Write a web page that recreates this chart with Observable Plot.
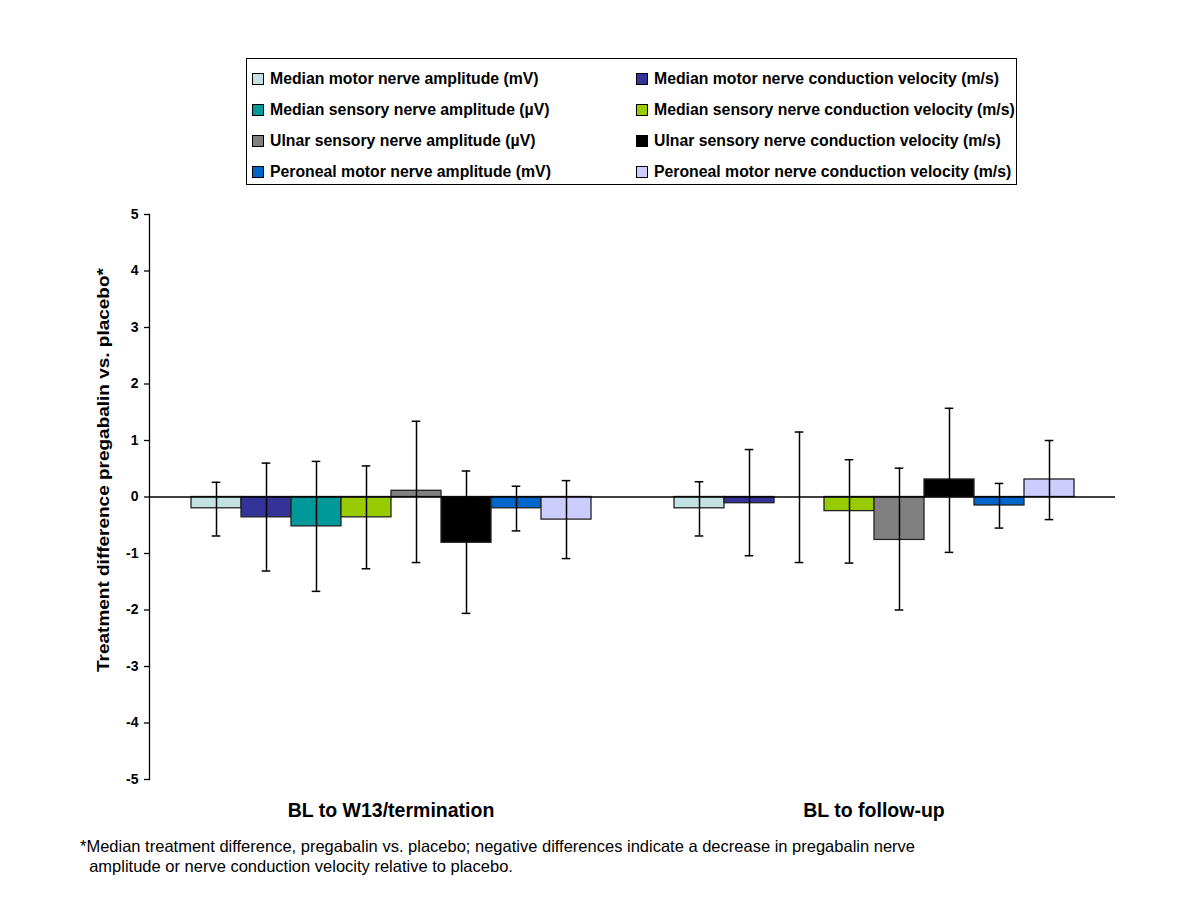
<!DOCTYPE html>
<html>
<head>
<meta charset="utf-8">
<script src="https://cdn.jsdelivr.net/npm/d3@7"></script>
<script src="https://cdn.jsdelivr.net/npm/@observablehq/plot@0.6"></script>
<style>
  html, body { margin: 0; padding: 0; background: #fff; }
  body { width: 1200px; height: 900px; position: relative; font-family: "Liberation Sans", Arial, sans-serif; }
  #chart { position: absolute; left: 0; top: 0; }
  #legend { position: absolute; left: 246px; top: 58px; width: 769px; height: 125px; border: 1px solid #000; }
  .item { position: absolute; display: flex; align-items: center; font-weight: bold; font-size: 15.8px; white-space: nowrap; color: #000; }
  .sw { width: 10px; height: 10px; border: 1px solid #000; margin-right: 6px; }
  #ylabel { position: absolute; left: 103px; top: 470px; transform: translate(-50%, -50%) rotate(-90deg) scaleX(1.15); font-weight: bold; font-size: 16.5px; white-space: nowrap; }
  #note { position: absolute; left: 80px; top: 836px; font-size: 16.5px; line-height: 20px; }
</style>
</head>
<body>
<div id="chart"></div>
<div id="legend"></div>
<div id="ylabel">Treatment difference pregabalin vs. placebo*</div>
<div id="note">*Median treatment difference, pregabalin vs. placebo; negative differences indicate a decrease in pregabalin nerve<br>&nbsp;&nbsp;amplitude or nerve conduction velocity relative to placebo.</div>
<script>
const groups = ["BL to W13/termination", "BL to follow-up"];
const series = [
  "Median motor nerve amplitude (mV)",
  "Median motor nerve conduction velocity (m/s)",
  "Median sensory nerve amplitude (µV)",
  "Median sensory nerve conduction velocity (m/s)",
  "Ulnar sensory nerve amplitude (µV)",
  "Ulnar sensory nerve conduction velocity (m/s)",
  "Peroneal motor nerve amplitude (mV)",
  "Peroneal motor nerve conduction velocity (m/s)"
];
const colors = ["#C2E1E1", "#333399", "#009999", "#99CC00", "#808080", "#000000", "#0066CC", "#CCCCFF"];
const yTicks = [-5, -4, -3, -2, -1, 0, 1, 2, 3, 4, 5];

const medianW13 = [-0.2, -0.36, -0.52, -0.36, 0.11, -0.81, -0.2, -0.4];
const lowerW13  = [-0.69, -1.31, -1.67, -1.27, -1.16, -2.06, -0.6, -1.09];
const upperW13  = [0.26, 0.6, 0.63, 0.55, 1.34, 0.46, 0.19, 0.29];

const medianFU = [-0.2, -0.11, 0, -0.25, -0.76, 0.31, -0.15, 0.31];
const lowerFU  = [-0.69, -1.04, -1.16, -1.17, -2.0, -0.98, -0.55, -0.4];
const upperFU  = [0.27, 0.84, 1.15, 0.66, 0.51, 1.57, 0.24, 1.0];

const data = [];
series.forEach((s, i) => {
  data.push({group: groups[0], series: s, value: medianW13[i], lo: lowerW13[i], hi: upperW13[i]});
});
series.forEach((s, i) => {
  data.push({group: groups[1], series: s, value: medianFU[i], lo: lowerFU[i], hi: upperFU[i]});
});

const chart = Plot.plot({
  width: 1200,
  height: 835,
  marginLeft: 149,
  marginRight: 85,
  marginTop: 214,
  marginBottom: 56,
  style: {fontFamily: "'Liberation Sans', Arial, sans-serif", background: "white"},
  fx: {domain: groups, paddingInner: 0, paddingOuter: 0, label: null},
  x: {domain: series, padding: 0, insetLeft: 38.5, insetRight: 38.5, axis: null},
  y: {domain: [-5, 5], axis: null},
  color: {domain: series, range: colors},
  marks: [
    Plot.barY(data, {fx: "group", x: "series", y: "value", fill: "series", stroke: "#222", strokeWidth: 1.3}),
    Plot.ruleY([0], {stroke: "#000", strokeWidth: 1.3}),
    Plot.ruleX(data, {fx: "group", x: "series", y1: "lo", y2: "hi", stroke: "#000", strokeWidth: 1.5}),
    Plot.tickY(data, {fx: "group", x: "series", y: "lo", insetLeft: 20.7, insetRight: 20.7, stroke: "#000", strokeWidth: 1.5}),
    Plot.tickY(data, {fx: "group", x: "series", y: "hi", insetLeft: 20.7, insetRight: 20.7, stroke: "#000", strokeWidth: 1.5}),
    Plot.frame({anchor: "left", facet: "super", stroke: "#000", strokeWidth: 1.3}),
    Plot.axisY({ticks: yTicks, tickFormat: d => String(d), tickSize: 5, tickPadding: 6, label: null, fontWeight: "bold", fontSize: 14, stroke: "#000", strokeWidth: 1.3}),
    Plot.axisFx({anchor: "bottom", tickSize: 0, tickPadding: 24, label: null, fontWeight: "bold", fontSize: 19.5})
  ]
});
document.getElementById("chart").appendChild(chart);

const legend = document.getElementById("legend");
const rowTops = [20, 51, 82, 113];
series.forEach((s, i) => {
  const col = i % 2, row = Math.floor(i / 2);
  const el = document.createElement("div");
  el.className = "item";
  el.style.left = (col === 0 ? 5 : 389) + "px";
  el.style.top = (rowTops[row] - 9) + "px";
  el.style.height = "18px";
  const sw = document.createElement("span");
  sw.className = "sw";
  sw.style.background = colors[i];
  const t = document.createElement("span");
  t.textContent = s;
  el.appendChild(sw);
  el.appendChild(t);
  legend.appendChild(el);
});
</script>
</body>
</html>
